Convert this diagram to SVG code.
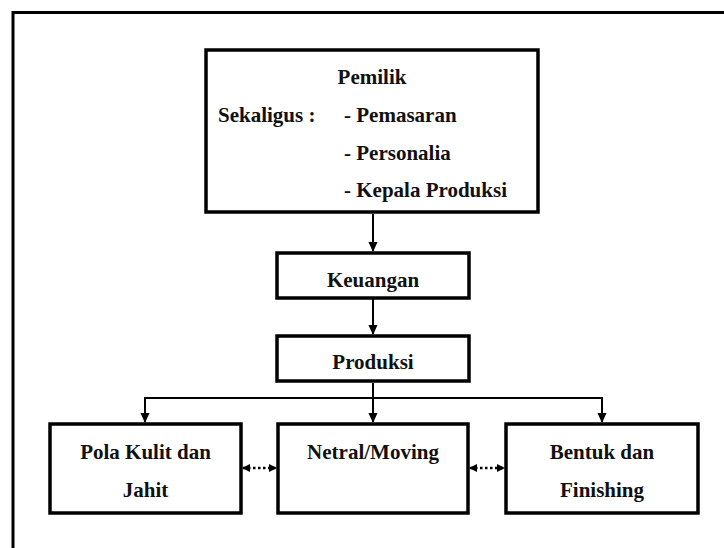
<svg xmlns="http://www.w3.org/2000/svg" width="724" height="548" viewBox="0 0 724 548">
<style>
.box{fill:#fff;stroke:#000;stroke-width:3.5}
.frame{fill:none;stroke:#000;stroke-width:3}
.t{font-family:"Liberation Serif","Times New Roman",serif;font-weight:bold;font-size:21px;fill:#111}
.c{text-anchor:middle}
.line{fill:none;stroke:#000;stroke-width:2}
.dot{fill:none;stroke:#000;stroke-width:2.5;stroke-dasharray:2.5 2.5}
</style>
<defs>
<marker id="ah" markerWidth="10" markerHeight="10" refX="9" refY="5" orient="auto" markerUnits="userSpaceOnUse">
<path d="M0,0.5 L10,5 L0,9.5 Z" fill="#000"/>
</marker>
<marker id="sh" markerWidth="8" markerHeight="10" refX="7" refY="5" orient="auto-start-reverse" markerUnits="userSpaceOnUse">
<path d="M0,1 L8,5 L0,9 Z" fill="#000"/>
</marker>
</defs>
<rect class="frame" x="13" y="12.5" width="730" height="560"/>
<g id="connectors">
<line class="line" x1="373" y1="214" x2="373" y2="251" marker-end="url(#ah)"/>
<line class="line" x1="373" y1="299" x2="373" y2="334" marker-end="url(#ah)"/>
<line class="line" x1="373" y1="383" x2="373" y2="422" marker-end="url(#ah)"/>
<polyline class="line" points="373,398 145,398 145,422" marker-end="url(#ah)"/>
<polyline class="line" points="373,398 602,398 602,422" marker-end="url(#ah)"/>
<line class="dot" x1="243" y1="468" x2="276" y2="468" marker-start="url(#sh)" marker-end="url(#sh)"/>
<line class="dot" x1="470" y1="468" x2="504" y2="468" marker-start="url(#sh)" marker-end="url(#sh)"/>
</g>
<g id="pemilik">
<rect class="box" x="206" y="50" width="332" height="162"/>
<text class="t c" x="372" y="84">Pemilik</text>
<text class="t" x="218" y="122">Sekaligus :</text>
<text class="t" x="344" y="122">- Pemasaran</text>
<text class="t" x="344" y="160">- Personalia</text>
<text class="t" x="344" y="197">- Kepala Produksi</text>
</g>
<g id="keuangan">
<rect class="box" x="277" y="253" width="192" height="45"/>
<text class="t c" x="373" y="287">Keuangan</text>
</g>
<g id="produksi">
<rect class="box" x="277" y="336" width="192" height="45"/>
<text class="t c" x="373" y="369">Produksi</text>
</g>
<g id="pola">
<rect class="box" x="50" y="424" width="191" height="89"/>
<text class="t c" x="145.5" y="459">Pola Kulit dan</text>
<text class="t c" x="145.5" y="497">Jahit</text>
</g>
<g id="netral">
<rect class="box" x="278" y="424" width="190" height="89"/>
<text class="t c" x="373" y="459">Netral/Moving</text>
</g>
<g id="bentuk">
<rect class="box" x="506" y="424" width="192" height="89"/>
<text class="t c" x="602" y="459">Bentuk dan</text>
<text class="t c" x="602" y="497">Finishing</text>
</g>
</svg>
